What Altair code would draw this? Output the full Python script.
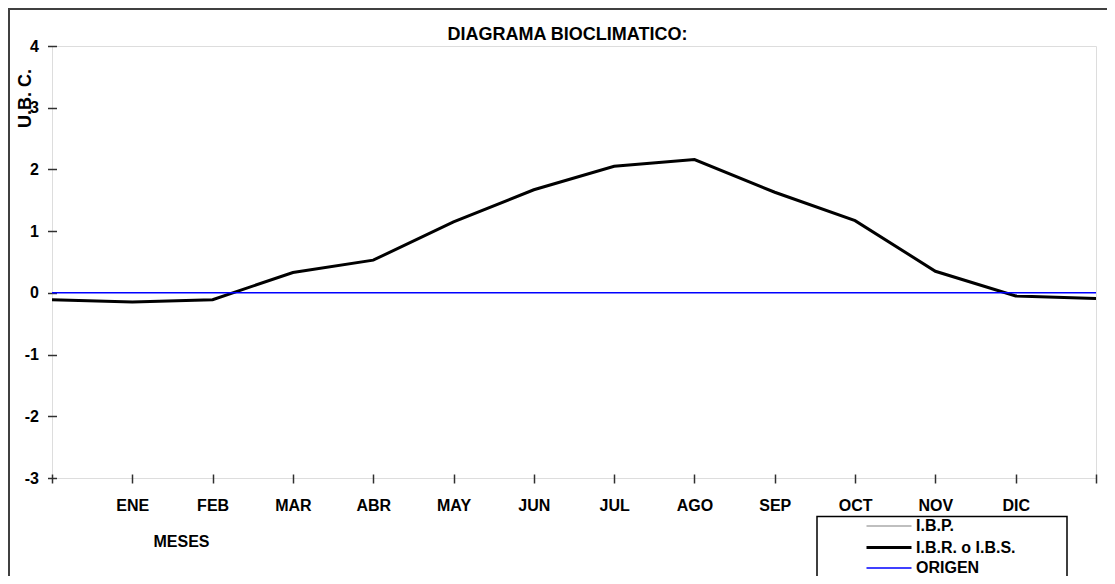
import altair as alt
import pandas as pd

# ---- data ----
MESES = ["", "ENE", "FEB", "MAR", "ABR", "MAY", "JUN", "JUL", "AGO", "SEP", "OCT", "NOV", "DIC", ""]
POSICION = [0, 1, 2, 3, 4, 5, 6, 7, 8, 9, 10, 11, 12, 13]
IBR = [-0.11, -0.15, -0.11, 0.33, 0.53, 1.15, 1.67, 2.05, 2.16, 1.63, 1.17, 0.35, -0.05, -0.09]
ORIGEN = [0, 0, 0, 0, 0, 0, 0, 0, 0, 0, 0, 0, 0, 0]
IBP = []
SERIES = ["I.B.P.", "I.B.R. o I.B.S.", "ORIGEN"]
COLORES = ["#808080", "#000000", "#0000FF"]
GROSORES = [1.2, 3, 1.5]
Y_TICKS = [-3, -2, -1, 0, 1, 2, 3, 4]
TITULO = "DIAGRAMA BIOCLIMATICO:"

rows = []
for serie, valores in ((SERIES[0], IBP), (SERIES[1], IBR), (SERIES[2], ORIGEN)):
    for p, v in zip(POSICION, valores):
        rows.append({"pos": p, "valor": v, "serie": serie})
df = pd.DataFrame(rows, columns=["pos", "valor", "serie"])

FONT = "Liberation Sans"
label_expr = "[" + ",".join("'%s'" % m for m in MESES) + "][datum.value]"

leyenda = alt.Legend(
    title=None,
    orient="none",
    legendX=843,
    legendY=471.5,
    symbolType="M-5,0H1",
    symbolSize=225,
    labelOffset=3,
    rowPadding=4,
    padding=0,
    labelFont=FONT,
    labelFontSize=16,
    labelFontWeight="bold",
    labelColor="#000000",
    labelLimit=0,
)

lineas = alt.Chart(df).mark_line().encode(
    x=alt.X(
        "pos:Q",
        scale=alt.Scale(domain=[0, 13], nice=False, zero=False),
        axis=alt.Axis(
            values=POSICION,
            labelExpr=label_expr,
            title="MESES",
            offset=-4,
            tickSize=9,
            tickWidth=1.5,
            tickColor="#303030",
            domain=False,
            grid=False,
            labelPadding=14,
            labelFont=FONT,
            labelFontSize=16,
            labelFontWeight="bold",
            labelColor="#000000",
            labelFlush=False,
            labelOverlap=False,
            titleFont=FONT,
            titleFontSize=16,
            titleFontWeight="bold",
            titleColor="#000000",
            titleX=129,
            titleY=67,
            titleAlign="center",
            titleBaseline="middle",
        ),
    ),
    y=alt.Y(
        "valor:Q",
        scale=alt.Scale(domain=[-3, 4], nice=False, zero=False),
        axis=alt.Axis(
            values=Y_TICKS,
            labelExpr="'' + datum.value",
            title="U.B. C.",
            offset=-4.5,
            tickSize=9,
            tickWidth=1.5,
            tickColor="#303030",
            domain=False,
            grid=False,
            labelPadding=9,
            labelFont=FONT,
            labelFontSize=16,
            labelFontWeight="bold",
            labelColor="#000000",
            labelOverlap=False,
            titleFont=FONT,
            titleFontSize=18,
            titleFontWeight="bold",
            titleColor="#000000",
            titleX=-31,
            titleY=52,
            titleAngle=-90,
            titleAlign="center",
            titleBaseline="middle",
        ),
    ),
    color=alt.Color("serie:N", scale=alt.Scale(domain=SERIES, range=COLORES), legend=leyenda),
    strokeWidth=alt.StrokeWidth(
        "serie:N", scale=alt.Scale(type="ordinal", domain=SERIES, range=GROSORES), legend=leyenda
    ),
)

uno = alt.Data(values=[{"k": 1}])

borde = alt.Chart(uno).mark_rect(fillOpacity=0, stroke="#404040", strokeWidth=2).encode(
    x=alt.value(-43), x2=alt.value(1080), y=alt.value(-37), y2=alt.value(560)
)

caja = alt.Chart(uno).mark_rect(fill="#ffffff", stroke="#000000", strokeWidth=1.5).encode(
    x=alt.value(765), x2=alt.value(1015), y=alt.value(470.5), y2=alt.value(560)
)

titulo = alt.Chart(uno).mark_text(
    text=TITULO,
    font=FONT,
    fontSize=18,
    fontWeight="bold",
    color="#000000",
    align="center",
    baseline="alphabetic",
).encode(x=alt.value(515.5), y=alt.value(-6))

chart = alt.layer(borde, caja, titulo, lineas).properties(
    width=1044,
    height=432,
    padding={"left": 44, "top": 38, "right": 11, "bottom": 98},
    autosize=alt.AutoSizeParams(type="none"),
).configure_view(stroke="#404040", strokeWidth=1.5).configure(background="#ffffff")

chart.save("out.html", embed_options={"renderer": "svg", "actions": False})
